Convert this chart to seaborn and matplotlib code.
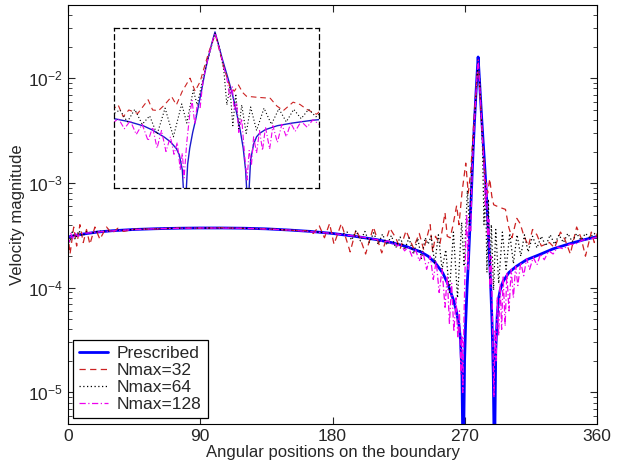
import matplotlib
matplotlib.use("Agg")
import matplotlib.pyplot as plt
import seaborn as sns

# ---- data: (angle in degrees, velocity magnitude) ----
prescribed = [
    (0, 3.05e-4), (10, 3.25e-4), (20, 3.4e-4), (30, 3.5e-4), (45, 3.6e-4), (60, 3.66e-4),
    (75, 3.7e-4), (90, 3.72e-4), (105, 3.72e-4), (120, 3.7e-4), (135, 3.65e-4), (150, 3.56e-4),
    (165, 3.45e-4), (180, 3.3e-4), (195, 3.1e-4), (210, 2.88e-4), (220, 2.7e-4), (230, 2.48e-4),
    (240, 2.2e-4), (245, 2.0e-4), (250, 1.72e-4), (255, 1.38e-4), (258, 1.12e-4), (260, 9.4e-5),
    (262, 7.8e-5), (264, 6.2e-5), (266, 4.4e-5), (267, 3.2e-5), (268, 1.5e-5), (268.5, 4e-6),
    (268.9, 1e-6), (269.3, 5e-6), (269.8, 2e-5), (270.5, 4.5e-5), (271.5, 1e-4), (272.5, 1.9e-4),
    (273.5, 4e-4), (274.5, 8.5e-4), (275.5, 1.9e-3), (276.5, 3.8e-3), (277.5, 7e-3), (278.3, 1.1e-2),
    (279, 1.6e-2), (279.7, 1.1e-2), (280.5, 7e-3), (281.5, 4e-3), (282.5, 2.4e-3), (283.5, 1.45e-3),
    (284.5, 8.5e-4), (285.5, 4.6e-4), (286.5, 2.3e-4), (287.5, 1.1e-4), (288.5, 4.5e-5), (289.3, 1.5e-5),
    (289.8, 4e-6), (290.1, 1e-6), (290.5, 6e-6), (291, 2.5e-5), (292, 5.5e-5), (293, 8e-5),
    (294, 9.5e-5), (296, 1.15e-4), (300, 1.4e-4), (305, 1.6e-4), (312, 1.85e-4), (320, 2.05e-4),
    (330, 2.35e-4), (340, 2.6e-4), (350, 2.85e-4), (360, 3.08e-4),
]

nmax32 = [
    (0, 3.3e-4), (1.5, 2.1e-4), (4, 3.8e-4), (6, 2.5e-4), (8.2, 4.0e-4), (10.5, 2.7e-4),
    (12.7, 3.6e-4), (15, 2.6e-4), (18.4, 3.8e-4), (21.8, 2.9e-4), (26.3, 3.8e-4), (30, 3.3e-4),
    (34, 3.7e-4), (38, 3.45e-4), (45, 3.62e-4), (60, 3.64e-4), (75, 3.72e-4), (90, 3.7e-4),
    (105, 3.74e-4), (120, 3.68e-4), (135, 3.66e-4), (150, 3.54e-4), (162, 3.5e-4), (167, 3.3e-4),
    (171, 3.9e-4), (174.5, 3.0e-4), (178, 4.1e-4), (181, 2.6e-4), (186, 4.1e-4), (192, 2.2e-4),
    (196, 3.6e-4), (199, 2.9e-4), (202.5, 2.1e-4), (207.8, 3.8e-4), (213.5, 2.15e-4), (219, 3.7e-4),
    (223, 3.0e-4), (226, 2.35e-4), (230, 3.5e-4), (235, 2.4e-4), (239, 3.3e-4), (242, 2.3e-4),
    (246.4, 4.0e-4), (248.1, 2.2e-4), (250, 3.1e-4), (253, 2.6e-4), (256.5, 5.2e-4), (258, 3.1e-4),
    (260, 3.0e-4), (262, 4.0e-4), (264.4, 6.1e-4), (266, 4.0e-4), (268, 8e-4), (270.6, 1.55e-3),
    (272.3, 8e-4), (274, 1.3e-3), (275.6, 3.0e-3), (277, 6.0e-3), (278.4, 1.07e-2), (279.2, 1.35e-2),
    (280.7, 5.5e-3), (282.3, 2.3e-3), (284, 1.02e-3), (285.5, 8e-4), (286.9, 1.1e-3), (288.3, 7.5e-4),
    (289.6, 6.2e-4), (293, 5.9e-4), (297.6, 5.6e-4), (299.8, 3.8e-4), (302, 3.0e-4), (305.3, 4.6e-4),
    (307.6, 4.1e-4), (309.9, 3.2e-4), (313.2, 2.5e-4), (316, 3.6e-4), (319, 3.2e-4), (322, 2.5e-4),
    (327.5, 2.7e-4), (331, 2.4e-4), (335, 3.4e-4), (338, 2.9e-4), (341.7, 2.1e-4), (346, 3.8e-4),
    (349, 3.0e-4), (352, 2.0e-4), (356, 3.4e-4), (358, 2.7e-4), (360, 3.3e-4),
]

nmax64 = [
    (0, 3.0e-4), (1.5, 2.7e-4), (3, 3.4e-4), (5, 2.9e-4), (7.5, 3.5e-4), (10, 3.1e-4),
    (13, 3.45e-4), (16, 3.3e-4), (20, 3.45e-4), (30, 3.5e-4), (45, 3.6e-4), (60, 3.67e-4),
    (75, 3.7e-4), (90, 3.72e-4), (105, 3.72e-4), (120, 3.7e-4), (135, 3.65e-4), (150, 3.56e-4),
    (165, 3.45e-4), (180, 3.3e-4), (187, 3.25e-4), (190, 3.4e-4), (193, 2.85e-4), (196, 3.5e-4),
    (199, 2.8e-4), (202, 3.45e-4), (205, 2.7e-4), (208, 3.35e-4), (211, 2.6e-4), (214, 3.25e-4),
    (217, 2.55e-4), (220, 3.15e-4), (223, 2.4e-4), (226, 3.05e-4), (229, 2.3e-4), (232, 3.0e-4),
    (235, 2.1e-4), (238, 2.95e-4), (240.5, 1.9e-4), (243, 3.0e-4), (245, 2.6e-4), (247, 3.1e-4),
    (249.5, 1.7e-4), (252, 3.2e-4), (254.5, 1.5e-4), (257, 2.3e-4), (259.5, 9e-5), (262.2, 3.4e-4),
    (265, 8e-5), (267.8, 4.2e-4), (269.5, 1.6e-4), (271.7, 8.5e-4), (273, 4e-4), (274.5, 1.1e-3),
    (276, 3.0e-3), (277.5, 6.5e-3), (279, 1.5e-2), (280, 1.0e-2), (281, 5e-3), (282, 2.2e-3),
    (283, 4e-4), (284, 1.0e-3), (285, 1.4e-4), (286, 7e-4), (287, 1.2e-4), (288, 4e-4),
    (289.5, 9.5e-5), (291, 3.6e-4), (293, 1.1e-4), (295.5, 3.4e-4), (298, 1.5e-4), (300.5, 3.3e-4),
    (303, 1.7e-4), (305.5, 3.2e-4), (308, 2.0e-4), (310.5, 3.2e-4), (313, 2.2e-4), (316, 3.1e-4),
    (319, 2.4e-4), (322, 3.1e-4), (325, 2.5e-4), (328, 3.2e-4), (331, 2.6e-4), (334, 3.2e-4),
    (337, 2.7e-4), (340, 3.3e-4), (343, 2.75e-4), (346, 3.3e-4), (349, 2.85e-4), (352, 3.3e-4),
    (355, 3.0e-4), (358, 3.3e-4), (360, 3.05e-4),
]

nmax128 = [
    (0, 3.0e-4), (1, 2.75e-4), (2, 3.3e-4), (3.5, 2.9e-4), (5, 3.3e-4), (7, 3.1e-4),
    (10, 3.3e-4), (15, 3.35e-4), (25, 3.45e-4), (40, 3.56e-4), (60, 3.66e-4), (90, 3.72e-4),
    (120, 3.7e-4), (150, 3.56e-4), (180, 3.3e-4), (200, 3.05e-4), (210, 2.88e-4), (215, 2.75e-4),
    (218, 2.8e-4), (220, 2.6e-4), (222, 2.7e-4), (224, 2.5e-4), (226.5, 2.6e-4), (229, 2.25e-4),
    (231.5, 2.45e-4), (234, 2.0e-4), (236.5, 2.3e-4), (239, 1.8e-4), (241.5, 2.2e-4), (244, 1.5e-4),
    (246.5, 2.0e-4), (248.5, 1.2e-4), (250.5, 1.8e-4), (252.5, 9e-5), (254.5, 1.5e-4), (256.5, 6.5e-5),
    (258, 1.3e-4), (259.5, 4.5e-5), (261, 1.1e-4), (262.5, 3.8e-5), (264, 8e-5), (265.2, 3.3e-5),
    (266.3, 6e-5), (267.3, 1.5e-5), (268, 3.5e-5), (268.6, 1.0e-5), (269.5, 6e-5), (270.5, 2.5e-4),
    (271.3, 5e-4), (272.2, 1.5e-4), (273, 4e-4), (274, 3.5e-4), (275, 1.4e-3), (276, 2.8e-3),
    (277.5, 7e-3), (278.5, 1.2e-2), (279.1, 1.5e-2), (280, 9e-3), (281, 5e-3), (282, 2.6e-3),
    (283, 1.5e-3), (284, 6e-4), (284.8, 1.0e-3), (285.5, 3e-4), (286.3, 4.5e-4), (287, 1.0e-4),
    (288, 2e-4), (289, 3e-5), (289.8, 9e-6), (290.5, 4e-5), (291.3, 2e-5), (292, 8e-5),
    (293, 3.5e-5), (294, 1.1e-4), (295, 4e-5), (296, 1.3e-4), (297.4, 4.3e-5), (298.5, 1.4e-4),
    (300, 6e-5), (301.5, 1.5e-4), (303, 8e-5), (304.5, 1.6e-4), (306, 1.05e-4), (308, 1.75e-4),
    (310, 1.3e-4), (312, 1.9e-4), (314, 1.5e-4), (316.5, 1.95e-4), (319, 1.65e-4), (321.5, 2.1e-4),
    (324, 1.85e-4), (327, 2.25e-4), (330, 2.1e-4), (333, 2.45e-4), (337, 2.35e-4), (341, 2.6e-4),
    (345, 2.6e-4), (350, 2.85e-4), (355, 2.9e-4), (360, 3.05e-4),
]

labels = ["Prescribed", "Nmax=32", "Nmax=64", "Nmax=128"]
x_ticks = [0, 90, 180, 270, 360]

# ---- style ----
sns.set_style("ticks")
plt.rcParams["font.family"] = ["Liberation Sans", "DejaVu Sans"]
plt.rcParams["mathtext.fontset"] = "custom"
plt.rcParams["mathtext.rm"] = "Liberation Sans"
plt.rcParams["mathtext.it"] = "Liberation Sans:italic"
plt.rcParams["mathtext.bf"] = "Liberation Sans:bold"

styles = [
    dict(color="#0000ff", lw=2.0, ls="-"),
    dict(color="#cc2222", lw=0.9, ls=(0, (5, 3.5))),
    dict(color="black", lw=0.9, ls=(0, (1, 2))),
    dict(color="#ee00ee", lw=0.9, ls=(0, (5, 2, 1, 2))),
]
inset_lw = [1.0, 0.8, 0.8, 0.8]
series = [prescribed, nmax32, nmax64, nmax128]

fig = plt.figure(figsize=(6.28, 4.71), dpi=100)
ax = fig.add_axes([0.108, 0.100, 0.843, 0.889])

for lab, data, st in zip(labels, series, styles):
    xs = [p[0] for p in data]
    ys = [p[1] for p in data]
    sns.lineplot(x=xs, y=ys, ax=ax, label=lab, estimator=None, sort=False,
                 color=st["color"], linewidth=st["lw"], linestyle=st["ls"])

ax.set_yscale("log")
ax.set_xlim(0, 360)
ax.set_ylim(5e-6, 5e-2)
ax.set_xticks(x_ticks)
ax.set_xticklabels([str(t) for t in x_ticks])
ax.tick_params(which="both", direction="in", top=True, right=True, labelsize=12.5)
ax.tick_params(which="major", length=5, width=0.8)
ax.tick_params(which="minor", length=3, width=0.6)
for sp in ax.spines.values():
    sp.set_linewidth(0.8)
    sp.set_color("black")
ax.set_xlabel("Angular positions on the boundary", fontsize=12, labelpad=1)
ax.set_ylabel("Velocity magnitude", fontsize=12, labelpad=2)

leg = ax.legend(loc="lower left", fontsize=12.5, frameon=True, fancybox=False,
                edgecolor="black", framealpha=1, handlelength=1.7,
                borderpad=0.35, labelspacing=0.1, handletextpad=0.5,
                borderaxespad=0, bbox_to_anchor=(0.009, 0.014))
leg.get_frame().set_linewidth(0.9)

# ---- inset: zoom of the peak region ----
axins = fig.add_axes([0.1815, 0.6008, 0.3264, 0.3397])
for data, st, lw in zip(series, styles, inset_lw):
    xs = [p[0] for p in data]
    ys = [p[1] for p in data]
    sns.lineplot(x=xs, y=ys, ax=axins, legend=False, estimator=None, sort=False,
                 color=("#1a1acc" if st["color"] == "#0000ff" else st["color"]),
                 linewidth=lw, linestyle=st["ls"])
axins.set_yscale("log")
axins.set_xlim(245, 314)
axins.set_ylim(6e-6, 1.95e-2)
axins.set_xticks([])
axins.set_yticks([])
axins.minorticks_off()
axins.set_xlabel("")
axins.set_ylabel("")
for sp in axins.spines.values():
    sp.set_linestyle((0, (4, 3)))
    sp.set_linewidth(0.9)
    sp.set_color("black")

fig.savefig("out.png", dpi=100)
